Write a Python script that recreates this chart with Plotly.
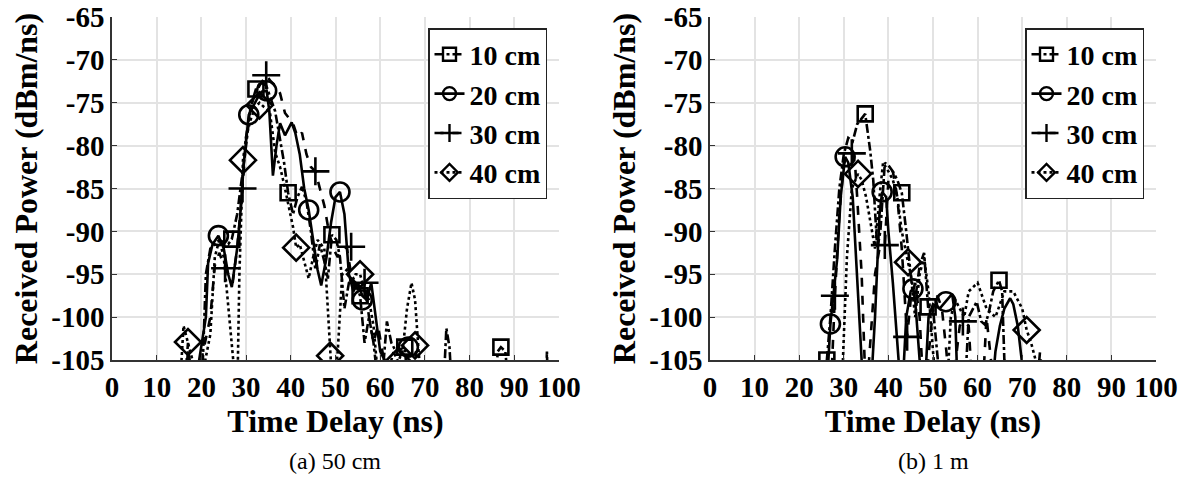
import plotly.graph_objects as go

# ---------------- data: (a) 50 cm ----------------
a10_t = [16, 17, 18, 20, 21, 22, 24, 26, 26.8, 28, 30, 31, 32.2, 33.3, 34.5, 35.5, 36.5, 37.5, 38.5, 39.4, 40.5, 41.5, 42.5, 43.5, 44.5, 45.5, 46.5, 47.5, 48.3, 49.2, 50.2, 51, 52, 53, 54, 55.5, 56.5, 57.5, 58.5, 60, 61.5, 62.5, 63.5, 65.5, 66.5, 74, 74.8, 75.5, 76.2, 85.5, 86.3, 87, 88, 89, 97, 97.3, 97.6]
a10_p = [-110, -104, -107, -110, -95, -92, -91, -91.5, -90.9, -88, -80, -75.5, -73.4, -72.6, -73, -74.5, -76, -79, -82, -85.5, -88, -86, -84.8, -86.5, -90, -94.5, -91.5, -93.5, -95.5, -90.4, -91, -93, -99, -96, -95.5, -97.5, -103, -100, -103, -110, -100.5, -103, -104, -103.5, -110, -110, -101.3, -103.5, -110, -110, -104, -103.5, -104, -110, -110, -104, -110]
a20_t = [16, 17, 18, 21, 21.5, 22.5, 23.8, 25, 26, 26.8, 28, 28.6, 29.5, 30.6, 31.5, 32.5, 33.5, 34.6, 35.2, 36, 36.8, 37.6, 38.7, 39.5, 40.2, 41, 42, 43, 44, 45, 46, 46.8, 48, 49, 50, 51, 52, 53, 54, 55, 56, 57, 58, 59, 60, 61, 62]
a20_p = [-110, -104, -110, -100, -93.7, -91.5, -90.5, -92, -95, -96.5, -92, -88.7, -82, -76.4, -75.5, -74.5, -73.7, -73.6, -76, -83.5, -80, -77.4, -78.8, -78, -77.3, -78.5, -81, -85, -87.5, -91, -94.5, -96.3, -93, -89, -86, -85.4, -88, -95, -97, -96, -97.5, -98, -96, -100, -104, -105, -110]
a30_t = [16, 17, 18, 22, 23, 24, 25.3, 26, 27, 28, 29.2, 30, 31, 32, 33, 34.5, 35.5, 36.5, 37.6, 38.7, 39.5, 40.5, 41.5, 42.5, 43.5, 44.5, 45.5, 46.5, 47.5, 48.5, 49.5, 50.5, 51.5, 52.5, 53.5, 54.5, 55.5, 56.5, 57.5, 58.5, 59.5, 60.5, 62, 67, 68, 69]
a30_p = [-110, -103, -110, -100, -94, -92.5, -94.3, -95, -96, -92, -85, -79, -75.5, -74, -73, -71.8, -72.5, -73, -73.9, -76.2, -76.8, -77.4, -79, -78.5, -81, -82.5, -83, -85, -87, -90, -92, -93, -92, -91.8, -95, -97, -96.5, -96, -100, -103, -101, -104, -110, -110, -104, -110]
a40_t = [15, 16, 17, 18, 19, 22, 23, 24, 25, 27, 28, 28.5, 29.3, 30, 31, 32, 33, 34, 35.3, 36.5, 37.6, 38.5, 39.5, 40.5, 41.2, 42, 43, 44, 45, 46, 47.5, 48.8, 49.5, 50.5, 51.5, 52.5, 53.5, 54.5, 55.5, 56.5, 57.5, 58.5, 60, 63, 64, 65, 66, 67, 67.8, 68.5, 69.5, 70.5]
a40_p = [-110, -101, -103, -105, -110, -102, -93, -91, -93, -105, -110, -95, -81.7, -79, -77, -75.5, -75, -75.5, -76, -80.8, -82.5, -84.5, -87, -89.5, -91.9, -91.5, -93.5, -95.5, -93, -91, -92, -104.5, -110, -104, -95, -94.5, -96, -95, -95, -97, -98, -101, -110, -104, -105.2, -104, -99, -96, -98, -103.3, -110, -110]

a10_mt = [26.8, 32.2, 39.4, 49.2, 55.5, 65.5, 87]
a10_mp = [-90.9, -73.4, -85.5, -90.4, -97.5, -103.5, -103.5]
a20_mt = [23.8, 30.6, 34.6, 44, 51, 56, 66.3]
a20_mp = [-90.5, -76.4, -73.6, -87.5, -85.4, -98, -103.5]
a30_mt = [25.3, 29.2, 34.5, 45.5, 53.5, 56.5]
a30_mp = [-94.3, -85, -71.8, -83, -91.8, -96]
a40_mt = [17, 29.3, 33, 41.2, 48.8, 55.5, 64, 67.8]
a40_mp = [-102.9, -81.7, -75.3, -91.9, -104.5, -95, -105.2, -103.3]

# ---------------- data: (b) 1 m ----------------
b10_t = [26.2, 27, 28, 29, 30, 31, 32, 33, 34.8, 35.9, 36.6, 37.5, 38.2, 39.2, 40, 41, 42, 43, 44, 45, 46, 47, 48, 48.9, 50, 51, 52, 57, 58, 59.8, 60.8, 61.7, 62.5, 63.5, 64.8, 65.5, 66, 67, 68]
b10_p = [-105, -100, -92, -85, -81, -79.1, -79.5, -77.5, -76.3, -80.5, -84, -92, -90, -82, -82.3, -83, -84, -85.5, -90, -95, -98, -94, -92.5, -98.8, -99, -104, -110, -110, -100, -98.2, -100.5, -100.9, -99.5, -97, -95.7, -97, -105, -110, -110]
b20_t = [26, 27, 28.5, 29.3, 30.3, 31, 32, 33, 34, 35.9, 37, 38, 38.6, 39.5, 40, 41, 42, 43, 44, 45, 45.5, 46, 47, 48, 49, 50, 51.5, 52.9, 54.3, 55, 55.6, 63, 64, 65, 66, 67.3, 68, 69, 70, 71]
b20_p = [-110, -100.8, -93.3, -86, -81.3, -82, -86, -95, -105, -110, -100, -88, -85.4, -86, -90, -96, -104, -110, -100, -97, -96.7, -98, -105, -110, -100, -98.5, -99, -98.2, -97.3, -100, -110, -110, -104, -101, -99, -97.8, -98.5, -101, -105, -110]
b30_t = [27, 28, 29, 30, 31.8, 32.5, 33, 34, 35, 37, 38, 39.2, 40, 41, 42, 43, 44.2, 45, 46, 47, 48, 50, 51, 52, 53, 54, 56, 56.7, 58, 59, 61, 62, 63, 64, 73, 74, 75]
b30_p = [-110, -97.5, -88, -82, -80.9, -82, -86, -95, -110, -95, -92, -91.6, -84, -83, -86, -92, -102.3, -98, -96, -100, -110, -99, -97.5, -99, -104, -110, -101, -100.5, -101, -110, -110, -100, -105, -110, -110, -104, -110]
b40_t = [29, 29.8, 30.7, 31.8, 33.2, 34, 35, 36.3, 37, 38, 38.8, 40, 41, 42, 43, 44.4, 45, 46, 47, 48, 49, 50, 51, 53, 54, 55, 57, 58, 60, 62, 64, 66, 68, 70, 71, 72, 73, 74]
b40_p = [-110, -105, -93, -85, -83.3, -84, -86, -89.6, -92, -86, -82, -83, -84, -86, -90, -93.6, -95, -100, -95, -93, -97, -104, -110, -110, -100, -98, -100, -97, -96, -99, -100, -97, -97, -99, -101.5, -103, -105, -110]

b10_mt = [26.2, 34.8, 43, 48.9, 64.8]
b10_mp = [-105, -76.3, -85.5, -98.8, -95.7]
b20_mt = [27, 30.3, 38.6, 45.5, 52.9]
b20_mp = [-100.8, -81.3, -85.4, -96.7, -98.2]
b30_mt = [28, 31.8, 39.2, 44.2, 56.7]
b30_mp = [-97.5, -80.9, -91.6, -102.3, -100.5]
b40_mt = [33.2, 44.4, 71]
b40_mp = [-83.3, -93.6, -101.5]

labels = ["10 cm", "20 cm", "30 cm", "40 cm"]
x_ticks = [0, 10, 20, 30, 40, 50, 60, 70, 80, 90, 100]
y_ticks = [-105, -100, -95, -90, -85, -80, -75, -70, -65]

dashes = ["dashdot", "solid", "dash", "dot"]
symbols = ["square-open", "circle-open", "cross-thin-open", "diamond-open"]
msizes = [15, 19, 20, 20]

W, H = 1192, 485

def px(xp):
    return xp / W

def py(yp):
    return 1 - yp / H

SERIF = "Liberation Serif, Times New Roman, serif"
fig = go.Figure()

panels = [
    (("x", "y"), "legend",
     [(a10_t, a10_p, a10_mt, a10_mp), (a20_t, a20_p, a20_mt, a20_mp),
      (a30_t, a30_p, a30_mt, a30_mp), (a40_t, a40_p, a40_mt, a40_mp)]),
    (("x2", "y2"), "legend2",
     [(b10_t, b10_p, b10_mt, b10_mp), (b20_t, b20_p, b20_mt, b20_mp),
      (b30_t, b30_p, b30_mt, b30_mp), (b40_t, b40_p, b40_mt, b40_mp)]),
]

for (xa, ya), leg, series in panels:
    for i, (t, p, mt, mp) in enumerate(series):
        fig.add_trace(go.Scatter(x=t, y=p, mode="lines", xaxis=xa, yaxis=ya,
                                 line=dict(color="black", width=2.6, dash=dashes[i]),
                                 showlegend=False, hoverinfo="skip"))
        fig.add_trace(go.Scatter(x=mt, y=mp, mode="markers", xaxis=xa, yaxis=ya,
                                 marker=dict(symbol=symbols[i], size=msizes[i], color="black",
                                             line=dict(width=2.6, color="black")),
                                 showlegend=False, hoverinfo="skip"))
        fig.add_trace(go.Scatter(x=[None], y=[None], mode="lines+markers", xaxis=xa, yaxis=ya,
                                 name=labels[i], legend=leg,
                                 line=dict(color="black", width=2.6, dash=dashes[i]),
                                 marker=dict(symbol=symbols[i], size=13, color="black",
                                             line=dict(width=2.4, color="black"))))

tick_font = dict(family=SERIF, size=29, color="black", weight="bold")
title_font = dict(family=SERIF, size=32, color="black", weight="bold")

def xaxis(domain, anchor):
    return dict(domain=domain, anchor=anchor, range=[0, 100], tickvals=x_ticks,
                ticktext=[str(v) for v in x_ticks], tickfont=tick_font, automargin=False,
                showgrid=True, gridcolor="#e3e3e3", gridwidth=1.5,
                showline=True, linecolor="#333333", linewidth=1.5,
                ticks="inside", ticklen=5, tickcolor="#333333", zeroline=False,
                title=dict(text="Time Delay (ns)", font=title_font, standoff=2))

def yaxis(domain, anchor):
    return dict(domain=domain, anchor=anchor, range=[-105, -65], tickvals=y_ticks,
                ticktext=[str(v) for v in y_ticks], tickfont=tick_font, automargin=False,
                showgrid=True, gridcolor="#e3e3e3", gridwidth=1.5,
                showline=True, linecolor="#333333", linewidth=1.5,
                ticks="inside", ticklen=5, tickcolor="#333333", zeroline=False,
                title=dict(text="Received Power (dBm/ns)", font=title_font, standoff=4))

ydom = [py(360), py(17)]
leg_font = dict(family=SERIF, size=28, color="black", weight="bold")
fig.update_layout(
    width=W, height=H,
    margin=dict(l=0, r=0, t=0, b=0, autoexpand=False),
    paper_bgcolor="white", plot_bgcolor="white",
    xaxis=xaxis([px(112), px(559)], "y"),
    yaxis=yaxis(ydom, "x"),
    xaxis2=xaxis([px(710), px(1156)], "y2"),
    yaxis2=yaxis(ydom, "x2"),
    legend=dict(x=px(547), y=py(28), xanchor="right", yanchor="top", xref="paper", yref="paper",
                bordercolor="#222222", borderwidth=1.5, bgcolor="white", font=leg_font,
                itemwidth=30, tracegroupgap=0, traceorder="normal"),
    legend2=dict(x=px(1144), y=py(28), xanchor="right", yanchor="top", xref="paper", yref="paper",
                 bordercolor="#222222", borderwidth=1.5, bgcolor="white", font=leg_font,
                 itemwidth=30, tracegroupgap=0, traceorder="normal"),
    annotations=[
        dict(text="(a) 50 cm", x=px(335), y=py(461), xref="paper", yref="paper",
             xanchor="center", yanchor="middle",
             showarrow=False, font=dict(family=SERIF, size=24, color="black")),
        dict(text="(b) 1 m", x=px(933), y=py(461), xref="paper", yref="paper",
             xanchor="center", yanchor="middle",
             showarrow=False, font=dict(family=SERIF, size=24, color="black")),
    ],
)

fig.write_html("out.html", config={"displayModeBar": False},
               post_script="document.body.style.margin='0px';")
